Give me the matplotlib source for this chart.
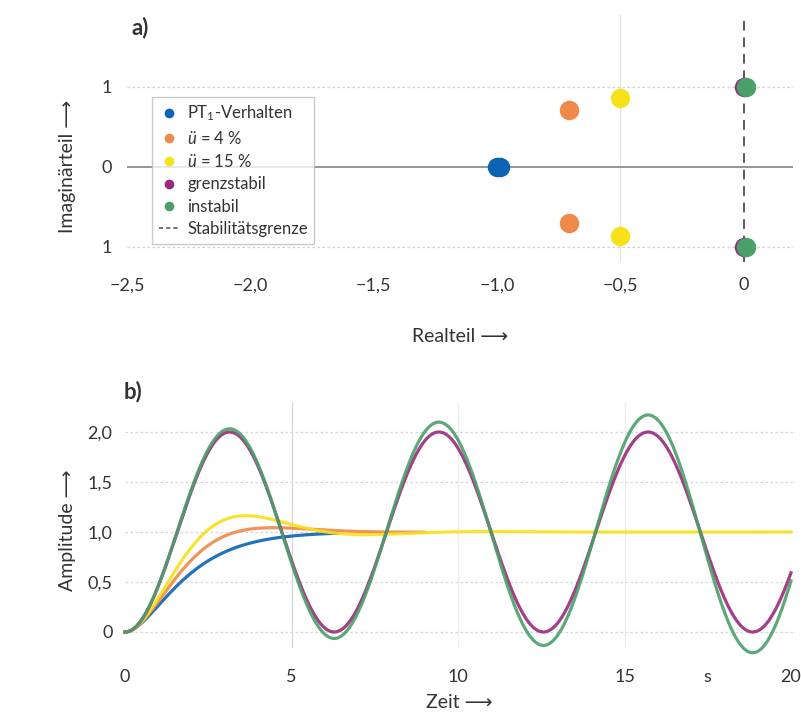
import numpy as np
import matplotlib.pyplot as plt
from matplotlib.lines import Line2D

plt.rcParams['font.family'] = ['Lato', 'DejaVu Sans']
plt.rcParams['mathtext.fontset'] = 'custom'
plt.rcParams['mathtext.rm'] = 'Lato'
plt.rcParams['mathtext.it'] = 'Lato:italic'

# ======================
# DATA
# ======================
labels = ["PT$_1$-Verhalten", r"$\mathit{ü}$ = 4 %", r"$\mathit{ü}$ = 15 %",
          "grenzstabil", "instabil"]
colors = ["#0b63b3", "#f08847", "#f7e11b", "#982a7b", "#4b9f69"]

# a) Pole (Realteil, Imaginärteil); PT1-Verhalten = Doppelpol bei -1
pole_re = [-1.0, -0.707, -0.5, 0.0, 0.01]
pole_im = [0.0, 0.707, 0.866, 1.0, 1.0]

# b) Sprungantworten: Ende der gezeichneten Kurve in s
t_end = [6.4, 9.0, 20.0, 20.0, 20.0]

xticks_a = [-2.5, -2.0, -1.5, -1.0, -0.5, 0.0]
xticklabels_a = ["−2,5", "−2,0", "−1,5", "−1,0", "−0,5", "0"]
yticks_a = [-1, 0, 1]
yticklabels_a = ["1", "0", "1"]

xticks_b = [0, 5, 10, 15, 17.5, 20]
xticklabels_b = ["0", "5", "10", "15", "s", "20"]
yticks_b = [0, 0.5, 1.0, 1.5, 2.0]
yticklabels_b = ["0", "0,5", "1,0", "1,5", "2,0"]

text_col = "#333333"


def step_response(re, im, t):
    # Sprungantwort eines Systems 2. Ordnung mit Polpaar re ± j·im
    if im == 0:
        return 1 - (1 - re * t) * np.exp(re * t)
    return 1 - np.exp(re * t) * (np.cos(im * t) - re / im * np.sin(im * t))


# ======================
# FIGURE
# ======================
fig = plt.figure(figsize=(8.01, 7.14), dpi=100)

# ---- a) Pol-Nullstellen-Plan ----
ax1 = fig.add_axes([127 / 801, 1 - 262 / 714, 666 / 801, 247 / 714])
ax1.set_xlim(-2.5, 0.2)
ax1.set_ylim(-1.19, 1.9)
for s in ax1.spines.values():
    s.set_visible(False)

ax1.axhline(0, color="#8c8c8c", lw=1.3, zorder=1)
for y in (-1, 1):
    ax1.axhline(y, color="#d0d0d0", lw=0.9, ls=(0, (2, 2)), zorder=0)
ax1.axvline(-0.5, color="#e2e2e2", lw=0.9, zorder=0)
ax1.axvline(0, color="#5a5a5a", lw=1.4, ls=(0, (5, 3.5)), zorder=1)

for i in range(5):
    if pole_im[i] == 0:
        # Doppelpol leicht versetzt zeichnen
        ax1.plot([pole_re[i], pole_re[i] + 0.012], [0, 0], "o", ms=14,
                 color=colors[i], mec="none", zorder=3)
    else:
        ax1.plot([pole_re[i]] * 2, [pole_im[i], -pole_im[i]], "o", ms=14,
                 color=colors[i], mec="none", zorder=3 + i)

ax1.set_xticks(xticks_a, xticklabels_a)
ax1.set_yticks(yticks_a, yticklabels_a)
ax1.tick_params(length=0, labelsize=13, colors=text_col)
ax1.tick_params(axis="x", pad=11)
ax1.tick_params(axis="y", pad=11)

handles = [Line2D([], [], ls="none", marker="o", ms=7, color=c, mec="none") for c in colors]
handles.append(Line2D([], [], ls=(0, (2.5, 1.8)), color="#5a5a5a", lw=1.2))
leg = fig.legend(handles, labels + ["Stabilitätsgrenze"], loc="upper left",
                 bbox_to_anchor=(152 / 801, 1 - 97 / 714), borderaxespad=0,
                 fontsize=12, frameon=True, fancybox=False, edgecolor="#bdbdbd",
                 handlelength=1.2, handletextpad=0.5, labelspacing=0.38,
                 borderpad=0.4, labelcolor=text_col)
leg.get_frame().set_linewidth(1.0)

fig.text(140 / 801, 1 - 28 / 714, "a)", fontsize=16, fontweight="bold",
         color=text_col, ha="center", va="center")
fig.text(460 / 801, 1 - 336 / 714, "Realteil ⟶", fontsize=14,
         color=text_col, ha="center", va="center")
fig.text(67 / 801, 1 - 166 / 714, "Imaginärteil ⟶", fontsize=14,
         color=text_col, ha="center", va="center", rotation=90)

# ---- b) Sprungantworten ----
ax2 = fig.add_axes([125 / 801, 1 - 648 / 714, 671 / 801, 246 / 714])
ax2.set_xlim(0, 20.15)
ax2.set_ylim(-0.16, 2.3)
for s in ax2.spines.values():
    s.set_visible(False)

for y in yticks_b:
    ax2.axhline(y, color="#d6d6d6", lw=0.9, ls=(0, (2, 2)), zorder=0)
ax2.axvline(5, color="#d6d6d6", lw=0.9, zorder=0)
for x in (10, 15):
    ax2.axvline(x, color="#ececec", lw=0.9, zorder=0)

order = [0, 1, 2, 4, 3]
for i in order:
    t = np.linspace(0, t_end[i], 600)
    ax2.plot(t, step_response(pole_re[i], pole_im[i], t), color=colors[i],
             lw=2.3, alpha=0.9, clip_on=False, zorder=2 + i)

ax2.set_xticks(xticks_b, xticklabels_b)
ax2.set_yticks(yticks_b, yticklabels_b)
ax2.tick_params(length=0, labelsize=13, colors=text_col)
ax2.tick_params(axis="x", pad=15)
ax2.tick_params(axis="y", pad=9)

fig.text(133 / 801, 1 - 392 / 714, "b)", fontsize=16, fontweight="bold",
         color=text_col, ha="center", va="center")
fig.text(459 / 801, 1 - 702 / 714, "Zeit ⟶", fontsize=14,
         color=text_col, ha="center", va="center")
fig.text(68 / 801, 1 - 530 / 714, "Amplitude ⟶", fontsize=14,
         color=text_col, ha="center", va="center", rotation=90)

fig.savefig("out.png", dpi=100)
